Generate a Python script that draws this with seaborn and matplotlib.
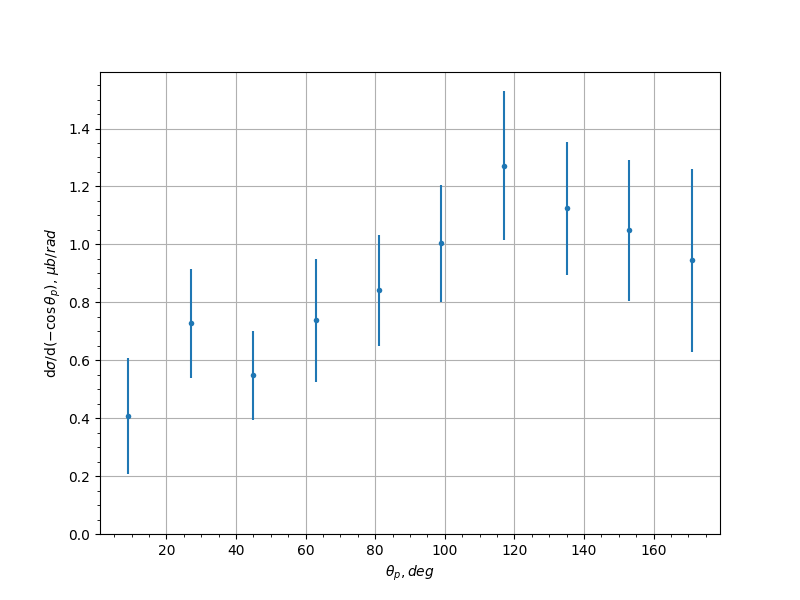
import matplotlib
matplotlib.use("Agg")
import matplotlib.pyplot as plt
import seaborn as sns
import pandas as pd

# bin centres, deg
theta = [9, 27, 45, 63, 81, 99, 117, 135, 153, 171]
xsec = [0.407, 0.728, 0.548, 0.738, 0.841, 1.003, 1.272, 1.124, 1.048, 0.945]
err = [0.200, 0.188, 0.153, 0.212, 0.193, 0.203, 0.257, 0.230, 0.243, 0.315]


def plot():
    df = pd.DataFrame({"theta": theta, "xsec": xsec, "err": err})
    color = sns.color_palette("tab10")[0]

    fig, ax = plt.subplots(figsize=(8, 6), dpi=100)
    ax.errorbar(df["theta"], df["xsec"], yerr=df["err"], fmt="none",
                ecolor=color, elinewidth=1.5, zorder=2)
    sns.scatterplot(data=df, x="theta", y="xsec", ax=ax, color=color,
                    s=16, linewidth=0, zorder=3)

    ax.set_ylim(bottom=0)
    ax.minorticks_on()
    ax.grid(True, which="major", color="#b0b0b0", linewidth=0.8)
    ax.set_axisbelow(True)
    ax.set_xlabel(r"$\theta_p, deg$")
    ax.set_ylabel(r"d$\sigma$/d($-\cos\theta_p$), $\mu b/rad$")

    fig.savefig("out.png")
    plt.close(fig)


if __name__ == "__main__":
    plot()
